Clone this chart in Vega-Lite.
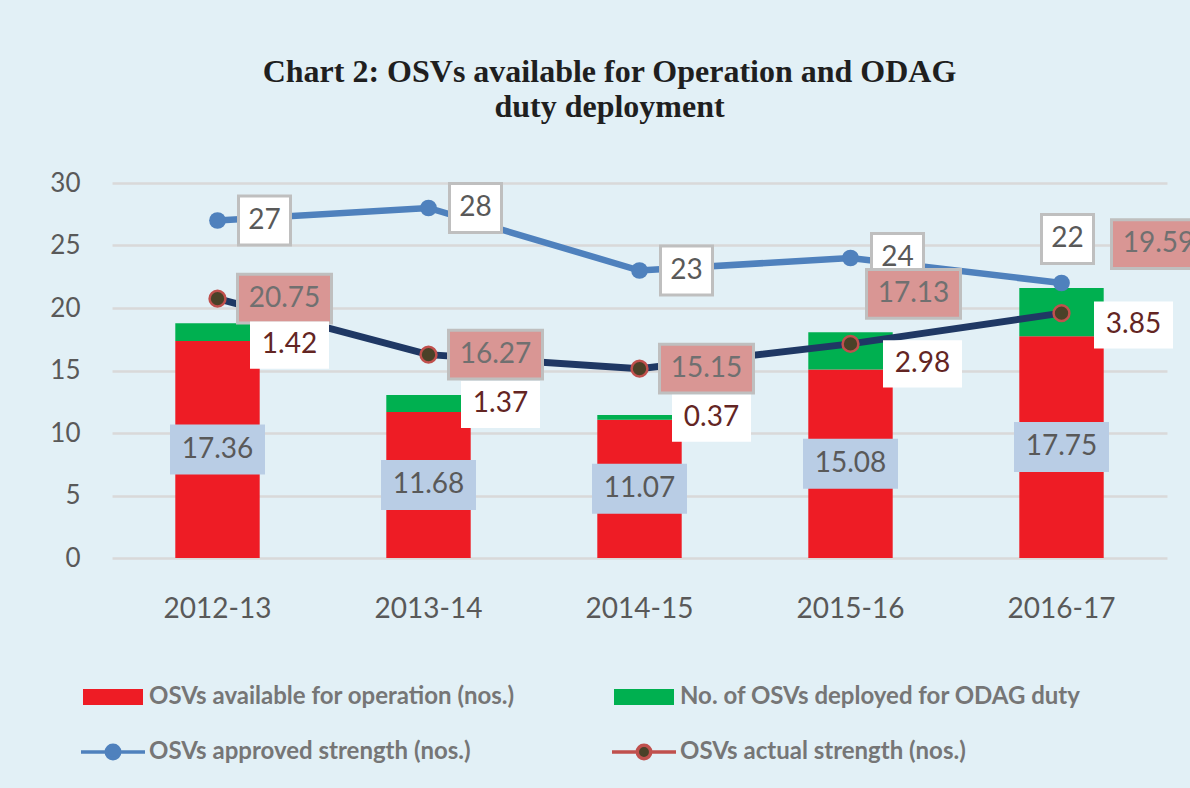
{
  "$schema": "https://vega.github.io/schema/vega-lite/v6.json",
  "width": 1055,
  "height": 375,
  "autosize": {"type": "none"},
  "padding": {"left": 112, "top": 183, "right": 23, "bottom": 230},
  "background": "#e2f0f6",
  "title": {
    "text": ["Chart 2: OSVs available for Operation and ODAG", "duty deployment"],
    "font": "Liberation Serif",
    "fontSize": 32,
    "fontWeight": "bold",
    "color": "#1f1f1f",
    "anchor": "middle",
    "dx": -30,
    "dy": 8,
    "offset": 54,
    "lineHeight": 35
  },
  "datasets": {
    "bars": [
      {"year": "2012-13", "series": "OSVs available for operation  (nos.)", "value": 17.36},
      {"year": "2012-13", "series": "No. of OSVs deployed for ODAG duty", "value": 1.42},
      {"year": "2013-14", "series": "OSVs available for operation  (nos.)", "value": 11.68},
      {"year": "2013-14", "series": "No. of OSVs deployed for ODAG duty", "value": 1.37},
      {"year": "2014-15", "series": "OSVs available for operation  (nos.)", "value": 11.07},
      {"year": "2014-15", "series": "No. of OSVs deployed for ODAG duty", "value": 0.37},
      {"year": "2015-16", "series": "OSVs available for operation  (nos.)", "value": 15.08},
      {"year": "2015-16", "series": "No. of OSVs deployed for ODAG duty", "value": 2.98},
      {"year": "2016-17", "series": "OSVs available for operation  (nos.)", "value": 17.75},
      {"year": "2016-17", "series": "No. of OSVs deployed for ODAG duty", "value": 3.85}
    ],
    "lines": [
      {"year": "2012-13", "approved": 27, "actual": 20.75},
      {"year": "2013-14", "approved": 28, "actual": 16.27},
      {"year": "2014-15", "approved": 23, "actual": 15.15},
      {"year": "2015-16", "approved": 24, "actual": 17.13},
      {"year": "2016-17", "approved": 22, "actual": 19.59}
    ]
  },
  "encoding": {
    "x": {
      "field": "year",
      "type": "nominal",
      "scale": {"paddingInner": 0.6, "paddingOuter": 0.3},
      "axis": {
        "title": null,
        "domain": false,
        "ticks": false,
        "labelAngle": 0,
        "labelFont": "Lato",
        "labelFontSize": 28,
        "labelColor": "#595959",
        "labelPadding": 37
      }
    }
  },
  "layer": [
    {
      "data": {"name": "bars"},
      "transform": [
        {"stack": "value", "groupby": ["year"], "sort": [{"field": "series", "order": "descending"}], "as": ["v0", "v1"]}
      ],
      "mark": {"type": "bar", "opacity": 1},
      "encoding": {
        "y": {
          "field": "v1",
          "type": "quantitative",
          "scale": {"domain": [0, 30], "nice": false},
          "axis": {"title": null, "values": [0, 5, 10, 15, 20, 25, 30]}
        },
        "y2": {"field": "v0"},
        "color": {
          "field": "series",
          "type": "nominal",
          "scale": {
            "domain": ["OSVs available for operation  (nos.)", "OSVs approved strength  (nos.)", "No. of OSVs deployed for ODAG duty", "OSVs  actual strength (nos.)"],
            "range": ["#ee1c25", "#4f81bd", "#00b050", "#4a4128"]
          },
          "legend": {
            "title": null,
            "orient": "none",
            "legendX": -11,
            "legendY": 502,
            "columns": 2,
            "columnPadding": 84,
            "rowPadding": 29,
            "padding": 0,
            "symbolSize": 1024,
            "labelFont": "Lato",
            "labelFontSize": 24,
            "labelFontWeight": "bold",
            "labelColor": "#767676",
            "labelOffset": 24,
            "labelLimit": 700,
            "encoding": {
              "symbols": {
                "shape": {"value": {"expr": "(datum.value === 'OSVs approved strength  (nos.)' || datum.value === 'OSVs  actual strength (nos.)') ? 'M-2,0H-0.42M0.42,0H2M-0.42,0A0.42,0.42 0 1,1 0.42,0A0.42,0.42 0 1,1 -0.42,0Z' : 'M-1.875,-0.5H1.875V0.5H-1.875Z'"}},
                "fill": {"value": {"expr": "datum.value === 'OSVs available for operation  (nos.)' ? '#ee1c25' : datum.value === 'No. of OSVs deployed for ODAG duty' ? '#00b050' : datum.value === 'OSVs approved strength  (nos.)' ? '#4f81bd' : '#4a4128'"}},
                "stroke": {"value": {"expr": "datum.value === 'OSVs approved strength  (nos.)' ? '#4f81bd' : datum.value === 'OSVs  actual strength (nos.)' ? '#c0504d' : 'transparent'"}},
                "strokeWidth": {"value": {"expr": "(datum.value === 'OSVs approved strength  (nos.)' || datum.value === 'OSVs  actual strength (nos.)') ? 3.5 : 0"}},
                "opacity": {"value": 1}
              }
            }
          }
        }
      }
    },
    {
      "data": {"name": "lines"},
      "mark": {"type": "line", "color": "#4f81bd", "strokeWidth": 6.5},
      "encoding": {"y": {"field": "approved", "type": "quantitative", "axis": {"title": null}}}
    },
    {
      "data": {"name": "lines"},
      "mark": {"type": "line", "color": "#1f3864", "strokeWidth": 7},
      "encoding": {"y": {"field": "actual", "type": "quantitative", "axis": {"title": null}}}
    },
    {
      "data": {"name": "lines"},
      "mark": {"type": "point", "shape": "circle", "filled": true, "fill": "#4f81bd", "size": 280, "opacity": 1},
      "encoding": {"y": {"field": "approved", "type": "quantitative", "axis": {"title": null}}}
    },
    {
      "data": {"name": "lines"},
      "mark": {"type": "point", "shape": "circle", "filled": true, "fill": "#4a4128", "stroke": "#c0504d", "strokeWidth": 2.5, "size": 250, "opacity": 1},
      "encoding": {"y": {"field": "actual", "type": "quantitative", "axis": {"title": null}}}
    },
    {
      "data": {"name": "lines"},
      "transform": [{"filter": "datum.year !== '2016-17'"}],
      "mark": {"type": "point", "shape": "M-1,-0.94H1V0.94H-1Z", "size": 2704, "filled": true, "fill": "#ffffff", "stroke": "#bfbfbf", "strokeWidth": 3, "opacity": 1, "xOffset": 47},
      "encoding": {"y": {"field": "approved", "type": "quantitative", "axis": {"title": null}}}
    },
    {
      "data": {"name": "lines"},
      "transform": [{"filter": "datum.year !== '2016-17'"}],
      "mark": {"type": "text", "font": "Lato", "fontSize": 28, "fill": "#595959", "align": "center", "baseline": "middle", "dx": 47},
      "encoding": {
        "y": {"field": "approved", "type": "quantitative", "axis": {"title": null}},
        "text": {"field": "approved", "type": "quantitative", "format": "d"}
      }
    },
    {
      "data": {"name": "lines"},
      "transform": [{"filter": "datum.year === '2016-17'"}],
      "mark": {"type": "point", "shape": "M-1,-0.94H1V0.94H-1Z", "size": 2704, "filled": true, "fill": "#ffffff", "stroke": "#bfbfbf", "strokeWidth": 3, "opacity": 1, "xOffset": 6, "yOffset": -44},
      "encoding": {"y": {"field": "approved", "type": "quantitative", "axis": {"title": null}}}
    },
    {
      "data": {"name": "lines"},
      "transform": [{"filter": "datum.year === '2016-17'"}],
      "mark": {"type": "text", "font": "Lato", "fontSize": 28, "fill": "#595959", "align": "center", "baseline": "middle", "dx": 6, "dy": -44},
      "encoding": {
        "y": {"field": "approved", "type": "quantitative", "axis": {"title": null}},
        "text": {"field": "approved", "type": "quantitative", "format": "d"}
      }
    },
    {
      "data": {"name": "lines"},
      "transform": [{"filter": "datum.year === '2012-13' || datum.year === '2013-14' || datum.year === '2014-15'"}],
      "mark": {"type": "point", "shape": "M-1,-0.521H1V0.521H-1Z", "size": 8836, "filled": true, "fill": "#d99694", "stroke": "#bfbfbf", "strokeWidth": 3, "opacity": 1, "xOffset": 67},
      "encoding": {"y": {"field": "actual", "type": "quantitative", "axis": {"title": null}}}
    },
    {
      "data": {"name": "lines"},
      "transform": [{"filter": "datum.year === '2012-13' || datum.year === '2013-14' || datum.year === '2014-15'"}],
      "mark": {"type": "text", "font": "Lato", "fontSize": 28, "fill": "#707070", "align": "center", "baseline": "middle", "dx": 67},
      "encoding": {
        "y": {"field": "actual", "type": "quantitative", "axis": {"title": null}},
        "text": {"field": "actual", "type": "quantitative", "format": ".2f"}
      }
    },
    {
      "data": {"name": "lines"},
      "transform": [{"filter": "datum.year === '2015-16'"}],
      "mark": {"type": "point", "shape": "M-1,-0.521H1V0.521H-1Z", "size": 8836, "filled": true, "fill": "#d99694", "stroke": "#bfbfbf", "strokeWidth": 3, "opacity": 1, "xOffset": 63, "yOffset": -50},
      "encoding": {"y": {"field": "actual", "type": "quantitative", "axis": {"title": null}}}
    },
    {
      "data": {"name": "lines"},
      "transform": [{"filter": "datum.year === '2015-16'"}],
      "mark": {"type": "text", "font": "Lato", "fontSize": 28, "fill": "#707070", "align": "center", "baseline": "middle", "dx": 63, "dy": -50},
      "encoding": {
        "y": {"field": "actual", "type": "quantitative", "axis": {"title": null}},
        "text": {"field": "actual", "type": "quantitative", "format": ".2f"}
      }
    },
    {
      "data": {"name": "lines"},
      "transform": [{"filter": "datum.year === '2016-17'"}],
      "mark": {"type": "point", "shape": "M-1,-0.521H1V0.521H-1Z", "size": 8836, "filled": true, "fill": "#d99694", "stroke": "#bfbfbf", "strokeWidth": 3, "opacity": 1, "xOffset": 97, "yOffset": -69},
      "encoding": {"y": {"field": "actual", "type": "quantitative", "axis": {"title": null}}}
    },
    {
      "data": {"name": "lines"},
      "transform": [{"filter": "datum.year === '2016-17'"}],
      "mark": {"type": "text", "font": "Lato", "fontSize": 28, "fill": "#707070", "align": "center", "baseline": "middle", "dx": 97, "dy": -69},
      "encoding": {
        "y": {"field": "actual", "type": "quantitative", "axis": {"title": null}},
        "text": {"field": "actual", "type": "quantitative", "format": ".2f"}
      }
    },
    {
      "data": {"name": "bars"},
      "transform": [
        {"stack": "value", "groupby": ["year"], "sort": [{"field": "series", "order": "descending"}], "as": ["v0", "v1"]},
        {"calculate": "(datum.v0 + datum.v1) / 2", "as": "mid"},
        {"filter": "datum.series === 'No. of OSVs deployed for ODAG duty' && (datum.year === '2012-13' || datum.year === '2015-16' || datum.year === '2016-17')"}
      ],
      "mark": {"type": "point", "shape": "M-1,-0.595H1V0.595H-1Z", "size": 6241, "filled": true, "fill": "#ffffff", "opacity": 1, "xOffset": 72, "yOffset": 13},
      "encoding": {"y": {"field": "mid", "type": "quantitative", "axis": {"title": null}}}
    },
    {
      "data": {"name": "bars"},
      "transform": [
        {"stack": "value", "groupby": ["year"], "sort": [{"field": "series", "order": "descending"}], "as": ["v0", "v1"]},
        {"calculate": "(datum.v0 + datum.v1) / 2", "as": "mid"},
        {"filter": "datum.series === 'No. of OSVs deployed for ODAG duty' && (datum.year === '2012-13' || datum.year === '2015-16' || datum.year === '2016-17')"}
      ],
      "mark": {"type": "text", "font": "Lato", "fontSize": 28, "fill": "#632523", "align": "center", "baseline": "middle", "dx": 72, "dy": 13},
      "encoding": {
        "y": {"field": "mid", "type": "quantitative", "axis": {"title": null}},
        "text": {"field": "value", "type": "quantitative", "format": ".2f"}
      }
    },
    {
      "data": {"name": "bars"},
      "transform": [
        {"stack": "value", "groupby": ["year"], "sort": [{"field": "series", "order": "descending"}], "as": ["v0", "v1"]},
        {"calculate": "(datum.v0 + datum.v1) / 2", "as": "mid"},
        {"filter": "datum.series === 'No. of OSVs deployed for ODAG duty' && (datum.year === '2013-14' || datum.year === '2014-15')"}
      ],
      "mark": {"type": "point", "shape": "M-1,-0.595H1V0.595H-1Z", "size": 6241, "filled": true, "fill": "#ffffff", "opacity": 1, "xOffset": 72, "yOffset": 1},
      "encoding": {"y": {"field": "mid", "type": "quantitative", "axis": {"title": null}}}
    },
    {
      "data": {"name": "bars"},
      "transform": [
        {"stack": "value", "groupby": ["year"], "sort": [{"field": "series", "order": "descending"}], "as": ["v0", "v1"]},
        {"calculate": "(datum.v0 + datum.v1) / 2", "as": "mid"},
        {"filter": "datum.series === 'No. of OSVs deployed for ODAG duty' && (datum.year === '2013-14' || datum.year === '2014-15')"}
      ],
      "mark": {"type": "text", "font": "Lato", "fontSize": 28, "fill": "#632523", "align": "center", "baseline": "middle", "dx": 72, "dy": 1},
      "encoding": {
        "y": {"field": "mid", "type": "quantitative", "axis": {"title": null}},
        "text": {"field": "value", "type": "quantitative", "format": ".2f"}
      }
    },
    {
      "data": {"name": "bars"},
      "transform": [
        {"stack": "value", "groupby": ["year"], "sort": [{"field": "series", "order": "descending"}], "as": ["v0", "v1"]},
        {"calculate": "(datum.v0 + datum.v1) / 2", "as": "mid"},
        {"filter": "datum.series === 'OSVs available for operation  (nos.)'"}
      ],
      "mark": {"type": "point", "shape": "M-1,-0.526H1V0.526H-1Z", "size": 9025, "filled": true, "fill": "#b9cde5", "opacity": 1},
      "encoding": {"y": {"field": "mid", "type": "quantitative", "axis": {"title": null}}}
    },
    {
      "data": {"name": "bars"},
      "transform": [
        {"stack": "value", "groupby": ["year"], "sort": [{"field": "series", "order": "descending"}], "as": ["v0", "v1"]},
        {"calculate": "(datum.v0 + datum.v1) / 2", "as": "mid"},
        {"filter": "datum.series === 'OSVs available for operation  (nos.)'"}
      ],
      "mark": {"type": "text", "font": "Lato", "fontSize": 28, "fill": "#595959", "align": "center", "baseline": "middle"},
      "encoding": {
        "y": {"field": "mid", "type": "quantitative", "axis": {"title": null}},
        "text": {"field": "value", "type": "quantitative", "format": ".2f"}
      }
    }
  ],
  "config": {
    "view": {"stroke": null},
    "axisY": {
      "domain": false,
      "ticks": false,
      "grid": true,
      "gridColor": "#d9d9d9",
      "gridWidth": 2.5,
      "labelFont": "Lato",
      "labelFontSize": 26,
      "labelColor": "#595959",
      "labelPadding": 32
    }
  }
}
